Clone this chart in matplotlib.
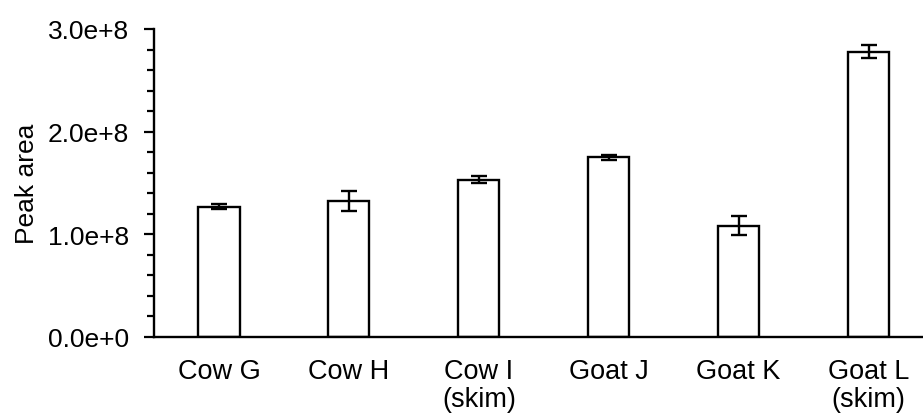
import numpy as np
import matplotlib
matplotlib.use('Agg')
import matplotlib.pyplot as plt
from matplotlib.ticker import MultipleLocator

plt.rcParams['font.family'] = ['Liberation Sans', 'DejaVu Sans']

# data
samples = ['Cow G', 'Cow H', 'Cow I\n(skim)', 'Goat J', 'Goat K', 'Goat L\n(skim)']
peak_area = [1.27e8, 1.327e8, 1.532e8, 1.75e8, 1.084e8, 2.78e8]
peak_err = [0.026e8, 0.096e8, 0.036e8, 0.026e8, 0.094e8, 0.066e8]
ytick_vals = [0.0, 1.0e8, 2.0e8, 3.0e8]
ytick_labs = ['0.0e+0', '1.0e+8', '2.0e+8', '3.0e+8']

fig = plt.figure(figsize=(9.23, 4.14), dpi=100)
ax = fig.add_axes([0.1669, 0.1836, 0.8445, 0.744])

x = np.arange(len(samples))
ax.bar(x, peak_area, width=0.316, color='white', edgecolor='black', linewidth=1.7,
       yerr=peak_err, capsize=5.5,
       error_kw=dict(elinewidth=1.7, capthick=1.7, ecolor='black'))

ax.set_xlim(-0.5, 5.5)
ax.set_ylim(0, 3.0e8)
ax.set_yticks(ytick_vals)
ax.set_yticklabels(ytick_labs)
ax.yaxis.set_minor_locator(MultipleLocator(0.2e8))
ax.tick_params(axis='y', which='major', direction='out', length=7, width=1.6,
               labelsize=19, pad=11)
ax.tick_params(axis='y', which='minor', direction='out', length=5, width=1.6)

ax.set_xticks(x)
ax.set_xticklabels(samples, linespacing=1.1)
ax.tick_params(axis='x', length=0, labelsize=19.5, pad=15)

ax.set_ylabel('Peak area', fontsize=19, labelpad=6)

for s in ['top', 'right']:
    ax.spines[s].set_visible(False)
for s in ['left', 'bottom']:
    ax.spines[s].set_linewidth(1.7)

plt.savefig('out.png', dpi=100)
